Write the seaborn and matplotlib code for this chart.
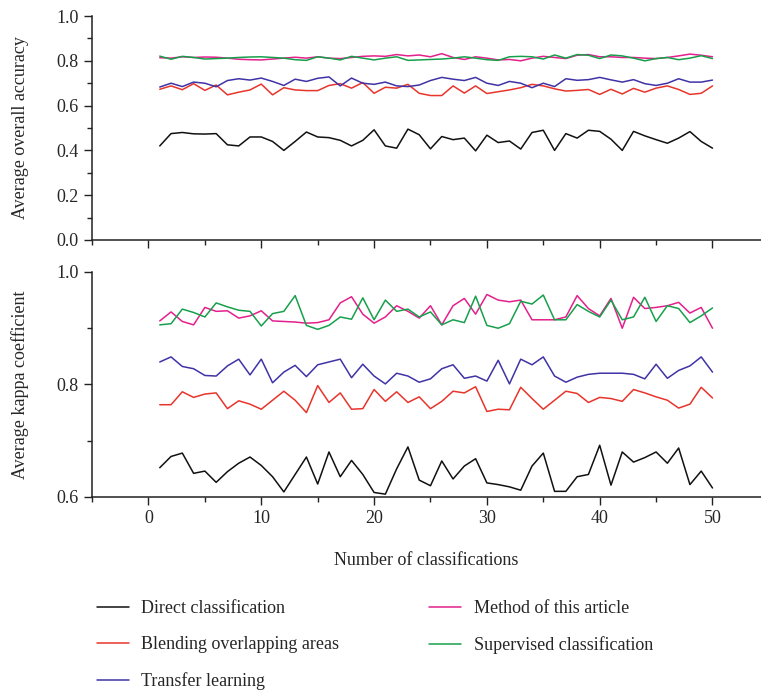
import numpy as np
import pandas as pd
import matplotlib
matplotlib.use("Agg")
import matplotlib.pyplot as plt
from matplotlib.ticker import MultipleLocator
import seaborn as sns

runs = list(range(1, 51))
methods = ["Direct classification", "Blending overlapping areas", "Transfer learning",
           "Method of this article", "Supervised classification"]
colors = ["#111111", "#e8352b", "#3f33a6", "#e3208c", "#17a04c"]

acc_direct = [0.420, 0.475, 0.480, 0.474, 0.473, 0.475, 0.425, 0.420, 0.460, 0.460,
              0.440, 0.400, 0.440, 0.482, 0.460, 0.457, 0.445, 0.420, 0.445, 0.492,
              0.420, 0.410, 0.495, 0.470, 0.407, 0.462, 0.448, 0.455, 0.398, 0.468,
              0.435, 0.442, 0.406, 0.480, 0.490, 0.400, 0.475, 0.455, 0.490, 0.485,
              0.450, 0.400, 0.485, 0.465, 0.448, 0.432, 0.455, 0.484, 0.440, 0.410]
acc_blend = [0.673, 0.688, 0.671, 0.698, 0.668, 0.692, 0.648, 0.660, 0.670, 0.696,
             0.648, 0.680, 0.670, 0.667, 0.667, 0.690, 0.698, 0.678, 0.703, 0.655,
             0.682, 0.678, 0.695, 0.655, 0.645, 0.645, 0.688, 0.656, 0.688, 0.654,
             0.662, 0.670, 0.680, 0.695, 0.688, 0.675, 0.665, 0.668, 0.672, 0.650,
             0.673, 0.652, 0.677, 0.660, 0.678, 0.688, 0.672, 0.650, 0.655, 0.688]
acc_transfer = [0.683, 0.700, 0.685, 0.705, 0.700, 0.684, 0.712, 0.720, 0.714, 0.723,
                0.708, 0.690, 0.718, 0.708, 0.722, 0.728, 0.688, 0.723, 0.700, 0.695,
                0.705, 0.688, 0.685, 0.692, 0.712, 0.726, 0.718, 0.712, 0.726, 0.700,
                0.690, 0.708, 0.700, 0.680, 0.700, 0.685, 0.720, 0.713, 0.716, 0.726,
                0.715, 0.705, 0.716, 0.698, 0.690, 0.700, 0.720, 0.705, 0.705, 0.714]
acc_article = [0.814, 0.812, 0.818, 0.815, 0.817, 0.816, 0.812, 0.807, 0.805, 0.804,
               0.808, 0.812, 0.816, 0.812, 0.818, 0.812, 0.810, 0.815, 0.820, 0.822,
               0.820, 0.828, 0.822, 0.826, 0.818, 0.832, 0.815, 0.806, 0.818, 0.812,
               0.804, 0.806, 0.800, 0.812, 0.820, 0.815, 0.810, 0.825, 0.828, 0.818,
               0.818, 0.815, 0.815, 0.812, 0.810, 0.815, 0.822, 0.830, 0.825, 0.818]
acc_supervised = [0.821, 0.807, 0.820, 0.815, 0.808, 0.810, 0.812, 0.815, 0.817, 0.818,
                  0.815, 0.812, 0.805, 0.802, 0.818, 0.812, 0.804, 0.820, 0.812, 0.804,
                  0.812, 0.818, 0.802, 0.804, 0.806, 0.808, 0.812, 0.818, 0.812, 0.805,
                  0.802, 0.818, 0.820, 0.818, 0.808, 0.826, 0.812, 0.828, 0.825, 0.810,
                  0.826, 0.822, 0.812, 0.800, 0.810, 0.815, 0.805, 0.812, 0.823, 0.810]

kap_direct = [0.652, 0.672, 0.678, 0.642, 0.646, 0.626, 0.645, 0.660, 0.671, 0.656,
              0.636, 0.609, 0.640, 0.671, 0.623, 0.680, 0.636, 0.665, 0.640, 0.608,
              0.605, 0.650, 0.689, 0.630, 0.620, 0.664, 0.632, 0.655, 0.668, 0.625,
              0.622, 0.618, 0.612, 0.655, 0.678, 0.610, 0.610, 0.636, 0.640, 0.692,
              0.621, 0.680, 0.662, 0.670, 0.680, 0.660, 0.687, 0.622, 0.646, 0.616]
kap_blend = [0.764, 0.764, 0.787, 0.777, 0.783, 0.785, 0.757, 0.771, 0.765, 0.756,
             0.772, 0.788, 0.772, 0.750, 0.798, 0.768, 0.785, 0.756, 0.757, 0.791,
             0.770, 0.787, 0.768, 0.778, 0.757, 0.770, 0.788, 0.785, 0.796, 0.752,
             0.756, 0.755, 0.795, 0.775, 0.756, 0.772, 0.788, 0.784, 0.768, 0.777,
             0.775, 0.770, 0.791, 0.785, 0.778, 0.772, 0.758, 0.765, 0.795, 0.776]
kap_transfer = [0.840, 0.849, 0.832, 0.828, 0.816, 0.815, 0.833, 0.845, 0.817, 0.845,
                0.803, 0.822, 0.834, 0.814, 0.835, 0.840, 0.845, 0.812, 0.836, 0.815,
                0.801, 0.820, 0.815, 0.804, 0.810, 0.828, 0.835, 0.811, 0.815, 0.806,
                0.843, 0.801, 0.845, 0.835, 0.849, 0.815, 0.804, 0.813, 0.818, 0.820,
                0.820, 0.820, 0.818, 0.810, 0.836, 0.811, 0.825, 0.833, 0.849, 0.822]
kap_article = [0.913, 0.929, 0.912, 0.906, 0.937, 0.930, 0.931, 0.918, 0.922, 0.931,
               0.913, 0.912, 0.911, 0.909, 0.910, 0.915, 0.945, 0.956, 0.925, 0.909,
               0.920, 0.940, 0.930, 0.918, 0.940, 0.906, 0.940, 0.953, 0.925, 0.960,
               0.950, 0.947, 0.950, 0.915, 0.915, 0.915, 0.920, 0.958, 0.935, 0.922,
               0.953, 0.900, 0.955, 0.935, 0.937, 0.940, 0.946, 0.927, 0.937, 0.900]
kap_supervised = [0.906, 0.908, 0.934, 0.928, 0.920, 0.945, 0.938, 0.932, 0.930, 0.904,
                  0.926, 0.930, 0.958, 0.905, 0.898, 0.905, 0.920, 0.916, 0.954, 0.915,
                  0.950, 0.930, 0.934, 0.920, 0.929, 0.906, 0.915, 0.910, 0.957, 0.905,
                  0.900, 0.908, 0.948, 0.943, 0.959, 0.915, 0.915, 0.942, 0.930, 0.920,
                  0.950, 0.915, 0.920, 0.955, 0.912, 0.940, 0.935, 0.910, 0.922, 0.936]

acc_series = [acc_direct, acc_blend, acc_transfer, acc_article, acc_supervised]
kap_series = [kap_direct, kap_blend, kap_transfer, kap_article, kap_supervised]

def long_df(series):
    rows = []
    for m, vals in zip(methods, series):
        for r, v in zip(runs, vals):
            rows.append({"run": r, "value": v, "method": m})
    return pd.DataFrame(rows)

df_acc = long_df(acc_series)
df_kap = long_df(kap_series)

sns.set_style("ticks")
plt.rcParams["font.family"] = ["Liberation Serif", "DejaVu Serif"]
plt.rcParams["xtick.direction"] = "out"
plt.rcParams["ytick.direction"] = "out"

fig = plt.figure(figsize=(7.61, 6.91), dpi=100)
ax1 = fig.add_axes([0.121, 0.6527, 0.879, 0.3241])
ax2 = fig.add_axes([0.121, 0.2808, 0.879, 0.3256])

palette = dict(zip(methods, colors))
sns.lineplot(data=df_acc, x="run", y="value", hue="method", hue_order=methods,
             palette=palette, ax=ax1, linewidth=1.1, legend=False)
sns.lineplot(data=df_kap, x="run", y="value", hue="method", hue_order=methods,
             palette=palette, ax=ax2, linewidth=1.1, legend=True)

for ax in (ax1, ax2):
    sns.despine(ax=ax)
    ax.set_xlim(-5, 54.3)
    ax.xaxis.set_major_locator(MultipleLocator(10))
    ax.xaxis.set_minor_locator(MultipleLocator(5))
    ax.tick_params(axis="both", which="major", length=6, width=1, labelsize=13, color="#222222")
    ax.tick_params(axis="both", which="minor", length=3.5, width=1, color="#222222")
    for s in ("left", "bottom"):
        ax.spines[s].set_linewidth(1.1)
        ax.spines[s].set_color("#222222")

ax1.set_ylim(0.0, 1.0)
ax1.yaxis.set_major_locator(MultipleLocator(0.2))
ax1.yaxis.set_minor_locator(MultipleLocator(0.1))
ax1.set_xticklabels([])
ax1.set_xlabel("")
ax1.set_ylabel("Average overall accuracy", fontsize=13)

ax2.set_ylim(0.6, 1.0)
ax2.yaxis.set_major_locator(MultipleLocator(0.2))
ax2.yaxis.set_minor_locator(MultipleLocator(0.1))
ax2.set_xlabel("Number of classifications", fontsize=13, labelpad=18)
ax2.set_ylabel("Average kappa coefficient", fontsize=13)

for ax in (ax1, ax2):
    ax.yaxis.set_major_formatter(matplotlib.ticker.FormatStrFormatter("%.1f"))
    ax.yaxis.set_label_coords(-0.095, 0.5)

handles, labels = ax2.get_legend_handles_labels()
ax2.get_legend().remove()
fig.legend(handles, labels, loc="upper left", bbox_to_anchor=(0.106, 0.155),
           ncol=2, frameon=False, fontsize=13, handlelength=1.75, handletextpad=0.7,
           columnspacing=5.0, labelspacing=1.05)

fig.savefig("out.png", dpi=100)
